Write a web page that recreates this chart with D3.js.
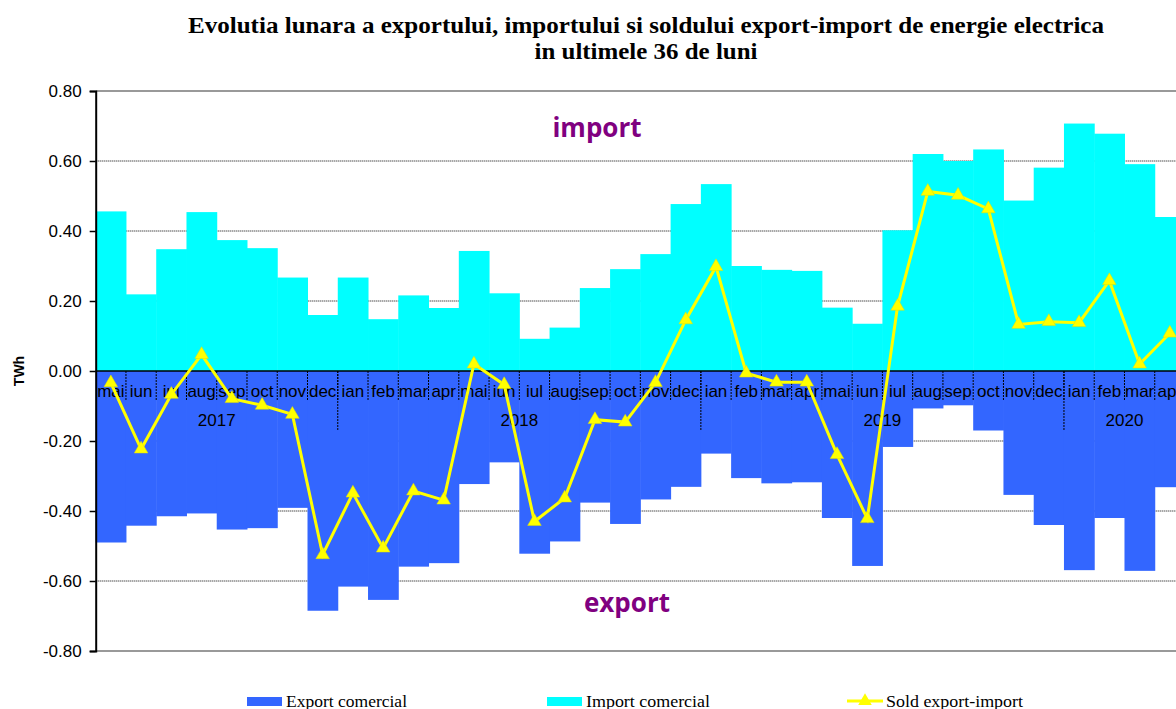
<!DOCTYPE html>
<html><head><meta charset="utf-8">
<script src="https://cdn.jsdelivr.net/npm/d3@7"></script>
<style>
html,body{margin:0;padding:0;background:#fff;overflow:hidden}
svg{display:block}
</style></head>
<body>
<svg id="chart" width="1176" height="709"></svg>
<script>
const months = ["mai","iun","iul","aug","sep","oct","nov","dec","ian","feb","mar","apr",
  "mai","iun","iul","aug","sep","oct","nov","dec","ian","feb","mar","apr",
  "mai","iun","iul","aug","sep","oct","nov","dec","ian","feb","mar","apr"];
const yearLabels = ["2017","2018","2019","2020"];
const yearCounts = [8,12,12,4];
const importValues = [0.456,0.219,0.348,0.454,0.374,0.351,0.267,0.160,0.267,0.148,0.216,0.180,
  0.343,0.222,0.092,0.124,0.237,0.291,0.334,0.477,0.534,0.300,0.289,0.286,
  0.181,0.135,0.402,0.620,0.600,0.633,0.487,0.581,0.707,0.678,0.591,0.440];
const exportValues = [-0.490,-0.442,-0.415,-0.407,-0.453,-0.449,-0.391,-0.685,-0.616,-0.654,-0.559,-0.549,
  -0.323,-0.261,-0.522,-0.487,-0.376,-0.437,-0.367,-0.331,-0.236,-0.306,-0.321,-0.318,
  -0.420,-0.557,-0.217,-0.107,-0.098,-0.170,-0.354,-0.440,-0.569,-0.420,-0.571,-0.332];
const soldValues = [-0.034,-0.223,-0.067,0.047,-0.079,-0.098,-0.124,-0.525,-0.349,-0.506,-0.343,-0.369,
  0.020,-0.039,-0.430,-0.363,-0.139,-0.146,-0.033,0.146,0.298,-0.006,-0.032,-0.032,
  -0.239,-0.422,0.185,0.513,0.502,0.463,0.133,0.141,0.138,0.258,0.020,0.108];
const yTicks = [0.8,0.6,0.4,0.2,0,-0.2,-0.4,-0.6,-0.8];
const titleLines = ["Evolutia lunara a exportului, importului si soldului export-import de energie electrica","in ultimele 36 de luni"];
const legendItems = ["Export comercial","Import comercial","Sold export-import"];

const svg = d3.select("#chart");
const pLeft = 95.7, pRight = 1185, pTop = 91, pBottom = 651;
const idx = months.map((m,i)=>i);
const x = d3.scaleBand().domain(idx).range([pLeft,pRight]).padding(0);
const y = d3.scaleLinear().domain([-0.8,0.8]).range([pBottom,pTop]);
const bw = x.bandwidth();

// gridlines
svg.append("g").selectAll("line").data(yTicks.filter(v=>Math.abs(v)<0.8 && v!==0)).join("line")
  .attr("x1",pLeft).attr("x2",1176).attr("y1",d=>y(d)).attr("y2",d=>y(d))
  .attr("stroke","#000").attr("stroke-width",1).attr("stroke-dasharray","1,1");

// bars
svg.append("g").selectAll("rect").data(importValues).join("rect")
  .attr("x",(d,i)=>x(i)).attr("width",bw+0.5).attr("y",d=>y(d)).attr("height",d=>y(0)-y(d))
  .attr("fill","#00FFFF");
svg.append("g").selectAll("rect").data(exportValues).join("rect")
  .attr("x",(d,i)=>x(i)).attr("width",bw+0.5).attr("y",y(0)).attr("height",d=>y(d)-y(0))
  .attr("fill","#3366FF");

// borders
svg.append("line").attr("x1",pLeft).attr("x2",1176).attr("y1",pTop).attr("y2",pTop).attr("stroke","#999").attr("stroke-width",2);
svg.append("line").attr("x1",pLeft).attr("x2",1176).attr("y1",pBottom).attr("y2",pBottom).attr("stroke","#999").attr("stroke-width",2);

// y axis
const fmt = d3.format(".2f");
const yAxis = d3.axisLeft(y).tickValues(yTicks).tickFormat(d=>fmt(d).replace("\u2212","-")).tickSize(6).tickPadding(8);
const ga = svg.append("g").attr("transform",`translate(${pLeft},0)`).call(yAxis);
ga.select(".domain").attr("stroke","#000").attr("stroke-width",2);
ga.selectAll(".tick line").attr("stroke","#000").attr("stroke-width",1.5);
ga.selectAll(".tick text").attr("font-family","Liberation Sans, Arial, sans-serif").attr("font-size",17).attr("fill","#000");

// zero line
svg.append("line").attr("x1",pLeft).attr("x2",1176).attr("y1",y(0)).attr("y2",y(0)).attr("stroke","#000").attr("stroke-width",1.5);

// month ticks
svg.append("g").selectAll("line").data(idx.slice(1)).join("line")
  .attr("x1",d=>x(d)).attr("x2",d=>x(d)).attr("y1",y(0)).attr("y2",y(0)+29)
  .attr("stroke","#000").attr("stroke-width",1).attr("stroke-dasharray","2,1");
// year separators
let acc=0; const yearStarts=[];
yearCounts.forEach(c=>{yearStarts.push(acc); acc+=c;});
svg.append("g").selectAll("line").data(yearStarts.slice(1)).join("line")
  .attr("x1",d=>x(d)).attr("x2",d=>x(d)).attr("y1",y(0)).attr("y2",y(0)+59)
  .attr("stroke","#000").attr("stroke-width",1).attr("stroke-dasharray","2,1");

// month labels
svg.append("g").selectAll("text").data(months).join("text")
  .attr("x",(d,i)=>x(i)+bw/2).attr("y",y(0)+26).attr("text-anchor","middle")
  .attr("font-family","Liberation Sans, Arial, sans-serif").attr("font-size",17).attr("fill","#000")
  .text(d=>d);
// year labels
svg.append("g").selectAll("text").data(yearLabels).join("text")
  .attr("x",(d,i)=>(x(yearStarts[i]) + x(yearStarts[i]+yearCounts[i]-1)+bw)/2)
  .attr("y",y(0)+55).attr("text-anchor","middle")
  .attr("font-family","Liberation Sans, Arial, sans-serif").attr("font-size",17).attr("fill","#000")
  .text(d=>d);

// sold line
const line = d3.line().x((d,i)=>x(i)+bw/2).y(d=>y(d));
svg.append("path").datum(soldValues).attr("d",line).attr("fill","none").attr("stroke","#FFFF00").attr("stroke-width",3);
const tri = d3.symbol().type(d3.symbolTriangle).size(80);
svg.append("g").selectAll("path").data(soldValues).join("path")
  .attr("d",tri).attr("transform",(d,i)=>`translate(${x(i)+bw/2},${y(d)})`)
  .attr("fill","#FFFF00").attr("stroke","#E0E000").attr("stroke-width",0.5);

// import/export labels
svg.append("text").attr("x",597).attr("y",137).attr("text-anchor","middle")
  .attr("font-family","Open Sans, sans-serif").attr("font-weight","bold").attr("font-size",26).attr("fill","#800080").text("import");
svg.append("text").attr("x",627).attr("y",612).attr("text-anchor","middle")
  .attr("font-family","Open Sans, sans-serif").attr("font-weight","bold").attr("font-size",26).attr("fill","#800080").text("export");

// TWh
svg.append("text").attr("transform",`translate(24,${y(0)}) rotate(-90)`).attr("text-anchor","middle")
  .attr("font-family","Liberation Sans, Arial, sans-serif").attr("font-weight","bold").attr("font-size",14).attr("fill","#000").text("TWh");

// title
svg.append("text").attr("x",646).attr("y",32.5).attr("text-anchor","middle")
  .attr("font-family","Liberation Serif, Times New Roman, serif").attr("font-weight","bold").attr("font-size",22.5)
  .attr("textLength",916).attr("lengthAdjust","spacingAndGlyphs").text(titleLines[0]);
svg.append("text").attr("x",646).attr("y",59).attr("text-anchor","middle")
  .attr("font-family","Liberation Serif, Times New Roman, serif").attr("font-weight","bold").attr("font-size",22.5)
  .attr("textLength",223).attr("lengthAdjust","spacingAndGlyphs").text(titleLines[1]);

// legend
const lg = svg.append("g");
const lx = [247,547,847];
const lw = [121,124,137];
lg.append("rect").attr("x",lx[0]).attr("y",697).attr("width",35).attr("height",9).attr("fill","#3366FF");
lg.append("rect").attr("x",lx[1]).attr("y",697).attr("width",35).attr("height",9).attr("fill","#00FFFF");
lg.append("line").attr("x1",lx[2]).attr("x2",lx[2]+36).attr("y1",701).attr("y2",701).attr("stroke","#FFFF00").attr("stroke-width",3);
lg.append("path").attr("d",tri).attr("transform",`translate(${lx[2]+18},701)`).attr("fill","#FFFF00");
lg.selectAll("text").data(legendItems).join("text")
  .attr("x",(d,i)=>lx[i]+39).attr("y",707).attr("textLength",(d,i)=>lw[i]).attr("lengthAdjust","spacingAndGlyphs")
  .attr("font-family","Liberation Serif, Times New Roman, serif").attr("font-size",16.5).attr("fill","#000")
  .text(d=>d);
</script>
</body></html>
